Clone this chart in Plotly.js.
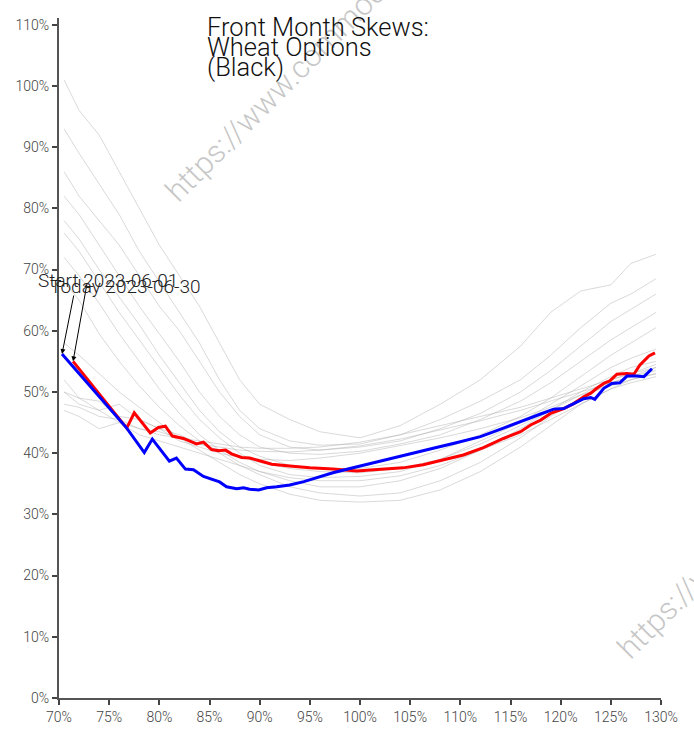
<!DOCTYPE html>
<html>
<head>
<meta charset="utf-8">
<script src="https://cdn.plot.ly/plotly-3.0.1.min.js"></script>
<style>html,body{margin:0;padding:0;background:#fff;}#chart{width:694px;height:730px;}</style>
</head>
<body>
<div id="chart"></div>
<script>
// Strike grid (moneyness) for history curves
const grayX = [0.705, 0.72, 0.74, 0.76, 0.78, 0.80, 0.82, 0.84, 0.86, 0.88, 0.90, 0.93, 0.96, 1.00, 1.04, 1.08, 1.12, 1.16, 1.19, 1.22, 1.25, 1.27, 1.295];
// History skews (implied vol, %)
const g1  = [101, 96, 92, 86, 80, 74, 69, 64, 58, 52, 48, 45.5, 43.5, 42.5, 44.5, 48, 52, 57.5, 63, 66.5, 67.5, 71, 72.5];
const g2  = [93, 89, 84, 79, 73, 68, 63, 58, 52, 47, 44, 42, 41.3, 41.5, 43, 45.5, 48.5, 52, 56, 60.5, 64.5, 66, 68.5];
const g3  = [86, 82, 78, 74, 69, 64, 60, 55, 50, 46, 43, 41, 40.5, 41, 42, 44, 46.5, 50, 53.5, 57.5, 61.5, 63.5, 66];
const g4  = [82, 79, 74, 69, 64, 59.5, 55, 50, 46, 43, 41, 40, 39.8, 40.3, 41.5, 43, 45.5, 48.5, 51.5, 55, 58.5, 60.5, 63];
const g5  = [78, 75, 70, 65.5, 61, 56, 51.5, 47, 43.5, 41, 39.5, 38, 37.5, 37.5, 38.5, 40.5, 43, 46, 49, 52.5, 56, 58, 60.5];
const g6  = [76, 73, 68, 63, 58.5, 54, 49.5, 45.5, 42.5, 40, 38, 36.5, 36, 36.2, 37, 39, 42, 45, 48, 51, 54, 55.5, 57];
const g7  = [72, 69, 64.5, 59.5, 55, 50.5, 46.5, 43, 40.5, 38.5, 37, 35.5, 34.5, 34.5, 35.5, 37.5, 40.5, 44, 47, 50, 52.5, 54, 55];
const g8  = [68, 65, 59.5, 55, 51, 47.5, 44.5, 42, 40, 38, 36.5, 34.5, 33.5, 33, 33.5, 35.5, 38.5, 42.5, 46, 49, 51.5, 52.5, 54];
const g9  = [58, 56, 53, 50, 47.5, 45, 42.5, 40.5, 38.5, 36.5, 35, 33.3, 32.3, 32, 32.3, 34, 37, 41, 44.5, 48, 50.5, 52, 53];
const g10 = [50, 48, 47, 45, 44, 43, 42.5, 42, 41.5, 41, 40.8, 40.8, 41, 41.8, 43, 44.5, 46, 47.5, 49, 50.5, 52, 53, 54];
const g11 = [48, 47.5, 46, 45.5, 44, 43.5, 42.5, 41.5, 41, 40.5, 40.3, 40.2, 40.5, 41.2, 42.3, 43.8, 45.3, 47, 48.5, 50, 51.5, 52.5, 53.5];
const g12 = [52, 49, 48.5, 46, 45.5, 44, 42, 41, 40, 39.3, 39, 38.8, 39.2, 40, 41.2, 42.5, 44, 45.8, 47.5, 49.5, 51, 52, 53];
const g13 = [47, 46, 44, 45, 43, 42, 41, 40, 39, 38, 37, 36, 35.5, 35.5, 36.3, 38, 40.5, 43, 45.5, 48, 50.5, 51.5, 52.5];
const g14 = [50, 49, 47, 48, 45.5, 44, 43, 41.5, 40.5, 39.5, 38.5, 37.5, 37, 36.8, 37.5, 39, 41.5, 44.5, 47, 49.5, 52, 53, 54.5];
const grayCurves = [g1, g2, g3, g4, g5, g6, g7, g8, g9, g10, g11, g12, g13, g14];

// Start 2023-06-01 (blue)
const startX = [0.703, 0.7675, 0.785, 0.793, 0.81, 0.817, 0.826, 0.834, 0.844, 0.854, 0.86, 0.867, 0.877, 0.884, 0.89, 0.899, 0.907, 0.917, 0.93, 0.944, 0.957, 0.973, 0.99, 1.01, 1.023, 1.05, 1.073, 1.096, 1.12, 1.143, 1.163, 1.18, 1.193, 1.203, 1.213, 1.223, 1.23, 1.234, 1.243, 1.251, 1.259, 1.266, 1.276, 1.283, 1.291];
const startY = [56.2, 44.1, 40.1, 42.3, 38.7, 39.2, 37.4, 37.3, 36.2, 35.6, 35.3, 34.5, 34.2, 34.35, 34.1, 34.0, 34.35, 34.5, 34.8, 35.35, 36.0, 36.8, 37.5, 38.3, 38.9, 40.0, 40.8, 41.7, 42.7, 44.1, 45.4, 46.4, 47.2, 47.3, 48.1, 48.9, 49.1, 48.8, 50.6, 51.4, 51.5, 52.6, 52.6, 52.5, 53.8];
// Today 2023-06-30 (red)
const todayX = [0.714, 0.7675, 0.775, 0.791, 0.799, 0.806, 0.813, 0.824, 0.837, 0.844, 0.852, 0.859, 0.866, 0.872, 0.882, 0.89, 0.899, 0.912, 0.93, 0.95, 0.973, 0.997, 1.01, 1.023, 1.043, 1.063, 1.083, 1.103, 1.123, 1.143, 1.16, 1.17, 1.18, 1.19, 1.203, 1.213, 1.223, 1.23, 1.236, 1.243, 1.249, 1.256, 1.266, 1.273, 1.279, 1.288, 1.294];
const todayY = [55.0, 44.1, 46.6, 43.3, 44.2, 44.4, 42.8, 42.4, 41.5, 41.8, 40.6, 40.4, 40.5, 39.9, 39.3, 39.2, 38.8, 38.2, 37.9, 37.6, 37.4, 37.1, 37.25, 37.4, 37.6, 38.1, 38.9, 39.7, 40.9, 42.4, 43.5, 44.6, 45.4, 46.5, 47.3, 48.1, 49.2, 49.8, 50.6, 51.4, 51.8, 52.9, 53.0, 52.9, 54.4, 55.9, 56.4];

const titleLines = ["Front Month Skews:", "Wheat Options", "(Black)"];
const startLabel = "Start 2023-06-01";
const todayLabel = "Today 2023-06-30";
const watermark = "https://www.commoditycharts.com";

const pct = a => a.map(v => v / 100);
const traces = [];
grayCurves.forEach(c => traces.push({
  x: grayX, y: pct(c), type: 'scatter', mode: 'lines',
  line: {color: 'rgba(170,170,170,0.45)', width: 1}, hoverinfo: 'skip'
}));
traces.push({x: todayX, y: pct(todayY), type: 'scatter', mode: 'lines', line: {color: '#ff0000', width: 3}});
traces.push({x: startX, y: pct(startY), type: 'scatter', mode: 'lines', line: {color: '#0000ff', width: 3}});

const lightFont = (size, color) => ({family: 'Roboto, sans-serif', weight: 300, size: size, color: color});
const annotations = [];
// watermarks (drawn first, under other text)
[[0.159, 0.715], [0.910, 0.043]].forEach(p => annotations.push({
  text: watermark, xref: 'paper', yref: 'paper', x: p[0], y: p[1],
  xanchor: 'left', yanchor: 'bottom', textangle: -45, showarrow: false,
  font: lightFont(31, 'rgba(150,150,150,0.55)')
}));
const titleY = [0.9868, 0.9573, 0.9280];
titleLines.forEach((t, i) => annotations.push({
  text: t, xref: 'paper', yref: 'paper', x: 0.2425, y: titleY[i],
  xanchor: 'left', yanchor: 'middle', showarrow: false,
  font: lightFont(25.5, '#111')
}));
// arrows (no text) pointing at the first point of each highlighted curve
annotations.push({
  text: '', x: startX[0], y: startY[0] / 100, ax: 12, ay: -60,
  showarrow: true, arrowhead: 2, arrowsize: 1, arrowwidth: 1, arrowcolor: '#000', standoff: 0
});
annotations.push({
  text: '', x: todayX[0], y: todayY[0] / 100, ax: 14, ay: -78,
  showarrow: true, arrowhead: 2, arrowsize: 1, arrowwidth: 1, arrowcolor: '#000', standoff: 0
});
// labels
annotations.push({
  text: startLabel, x: 0.7493, y: 0.6823, xanchor: 'center', yanchor: 'middle',
  showarrow: false, font: lightFont(19, '#222')
});
annotations.push({
  text: todayLabel, x: 0.7658, y: 0.6726, xanchor: 'center', yanchor: 'middle',
  showarrow: false, font: lightFont(19, '#222')
});

const axisCommon = {
  showgrid: false, zeroline: false, showline: true, linecolor: '#555', linewidth: 2,
  ticks: 'outside', ticklen: 5, tickwidth: 2, tickcolor: '#444', tickformat: '.0%',
  tickfont: lightFont(14, '#444')
};
const layout = {
  width: 694, height: 730,
  margin: {l: 59, r: 33, t: 18, b: 32, pad: 0},
  paper_bgcolor: '#fff', plot_bgcolor: '#fff',
  showlegend: false,
  xaxis: Object.assign({}, axisCommon, {range: [0.7, 1.3], dtick: 0.05, tick0: 0.7}),
  yaxis: Object.assign({}, axisCommon, {range: [0, 1.111], dtick: 0.1, tick0: 0}),
  annotations: annotations,
  font: {family: 'Roboto, sans-serif', weight: 300}
};
Plotly.newPlot('chart', traces, layout, {displayModeBar: false, staticPlot: true});
</script>
</body>
</html>
